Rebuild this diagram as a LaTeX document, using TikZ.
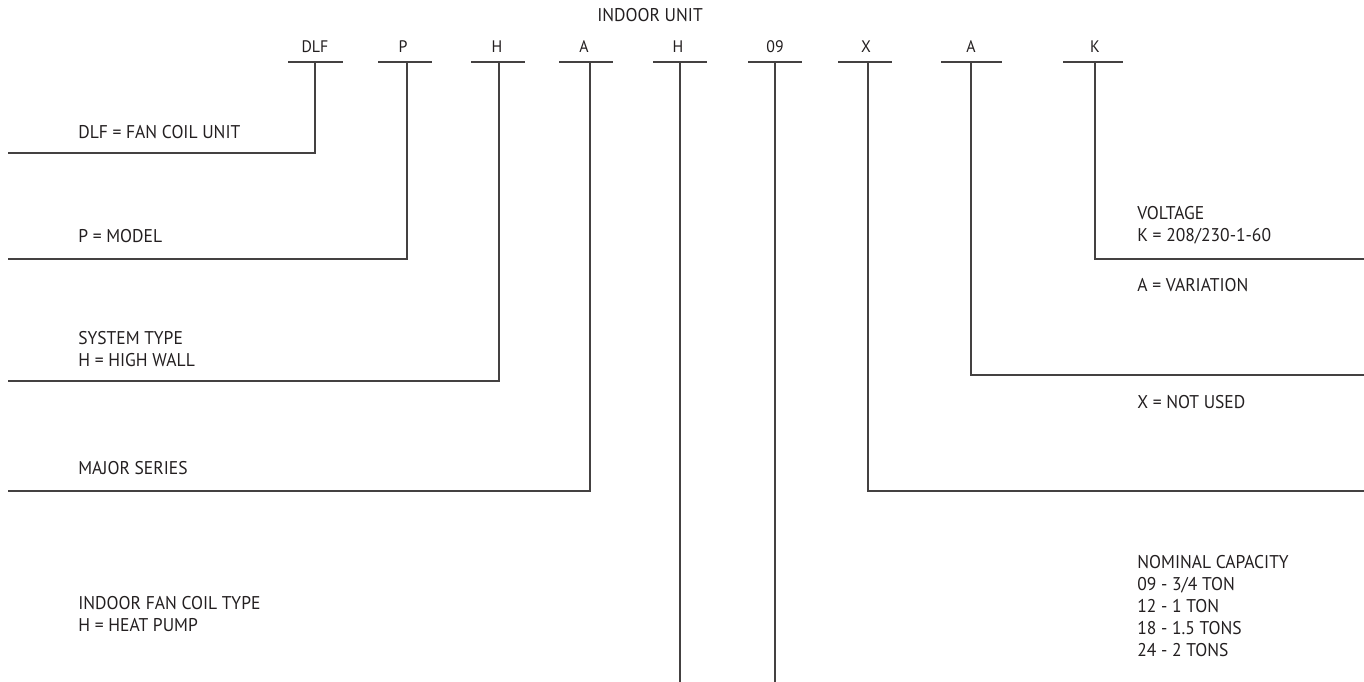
\documentclass[tikz,border=0pt]{standalone}
\usepackage{fontspec}
\setmainfont{PT Sans}[FakeStretch=0.95]
\usepackage{tikz}
\usetikzlibrary{calc}
\definecolor{ink}{RGB}{35,31,32}

\begin{document}
\begin{tikzpicture}[x=0.02cm,y=-0.02cm,
    rule/.style={draw=ink!85,line width=0.8pt},
    code/.style={text=ink,font=\fontsize{9.5}{11}\selectfont,inner sep=0pt},
    note/.style={text=ink,font=\fontsize{10.5}{12.6}\selectfont,align=left,anchor=west,inner sep=0pt}]
  \useasboundingbox (0,0) rectangle (1364,682);

  % Heading
  \node[code,font=\fontsize{10.5}{13}\selectfont] (head) at (650,15) {INDOOR UNIT};

  % Code letters
  \node[code] (dlf) at (315,47) {DLF};
  \node[code] (p)   at (403,47) {P};
  \node[code] (h1)  at (497,47) {H};
  \node[code] (a1)  at (584,47) {A};
  \node[code] (h2)  at (678,47) {H};
  \node[code] (cap) at (775,47) {09};
  \node[code] (x)   at (866,47) {X};
  \node[code] (a2)  at (971,47) {A};
  \node[code] (k)   at (1095,47) {K};

  % Underlines
  \draw[rule] (288,62) -- (343,62);
  \draw[rule] (378,62) -- (432,62);
  \draw[rule] (471,62) -- (525,62);
  \draw[rule] (559,62) -- (613,62);
  \draw[rule] (653,62) -- (707,62);
  \draw[rule] (748,62) -- (802,62);
  \draw[rule] (838,62) -- (892,62);
  \draw[rule] (941,62) -- (1002,62);
  \draw[rule] (1063,62) -- (1123,62);

  % Stems
  \coordinate (dlfs) at (315,62);
  \coordinate (ps)   at (407,62);
  \coordinate (h1s)  at (499,62);
  \coordinate (a1s)  at (590,62);
  \coordinate (h2s)  at (680,62);
  \coordinate (caps) at (775,62);
  \coordinate (xs)   at (868,62);
  \coordinate (a2s)  at (971,62);
  \coordinate (ks)   at (1095,62);

  % Line ends
  \coordinate (dlfe) at (8,153);
  \coordinate (pe)   at (8,259);
  \coordinate (h1e)  at (8,381);
  \coordinate (a1e)  at (8,491);
  \coordinate (h2e)  at (680,682);
  \coordinate (cape) at (775,682);
  \coordinate (xe)   at (1364,491);
  \coordinate (a2e)  at (1364,375);
  \coordinate (ke)   at (1364,259);

  \draw[rule] (dlfs) |- (dlfe);
  \draw[rule] (ps) |- (pe);
  \draw[rule] (h1s) |- (h1e);
  \draw[rule] (a1s) |- (a1e);
  \draw[rule] (h2s) -- (h2e);
  \draw[rule] (caps) -- (cape);
  \draw[rule] (xs) |- (xe);
  \draw[rule] (a2s) |- (a2e);
  \draw[rule] (ks) |- (ke);

  % Left notes
  \node[note] (ndlf) at (78,132) {DLF = FAN COIL UNIT};
  \node[note] (np)   at (78,236) {P = MODEL};
  \node[note] (nh1)  at (78,349) {SYSTEM TYPE\\H = HIGH WALL};
  \node[note] (na1)  at (78,468) {MAJOR SERIES};
  \node[note] (nh2)  at (78,614) {INDOOR FAN COIL TYPE\\H = HEAT PUMP};

  % Right notes
  \node[note] (nk)   at (1137,225) {VOLTAGE\\K = 208/230-1-60};
  \node[note] (na2)  at (1137,285) {A = VARIATION};
  \node[note] (nx)   at (1137,402) {X = NOT USED};
  \node[note] (ncap) at (1137,606) {NOMINAL CAPACITY\\09 - 3/4 TON\\12 - 1 TON\\18 - 1.5 TONS\\24 - 2 TONS};
\end{tikzpicture}
\end{document}
